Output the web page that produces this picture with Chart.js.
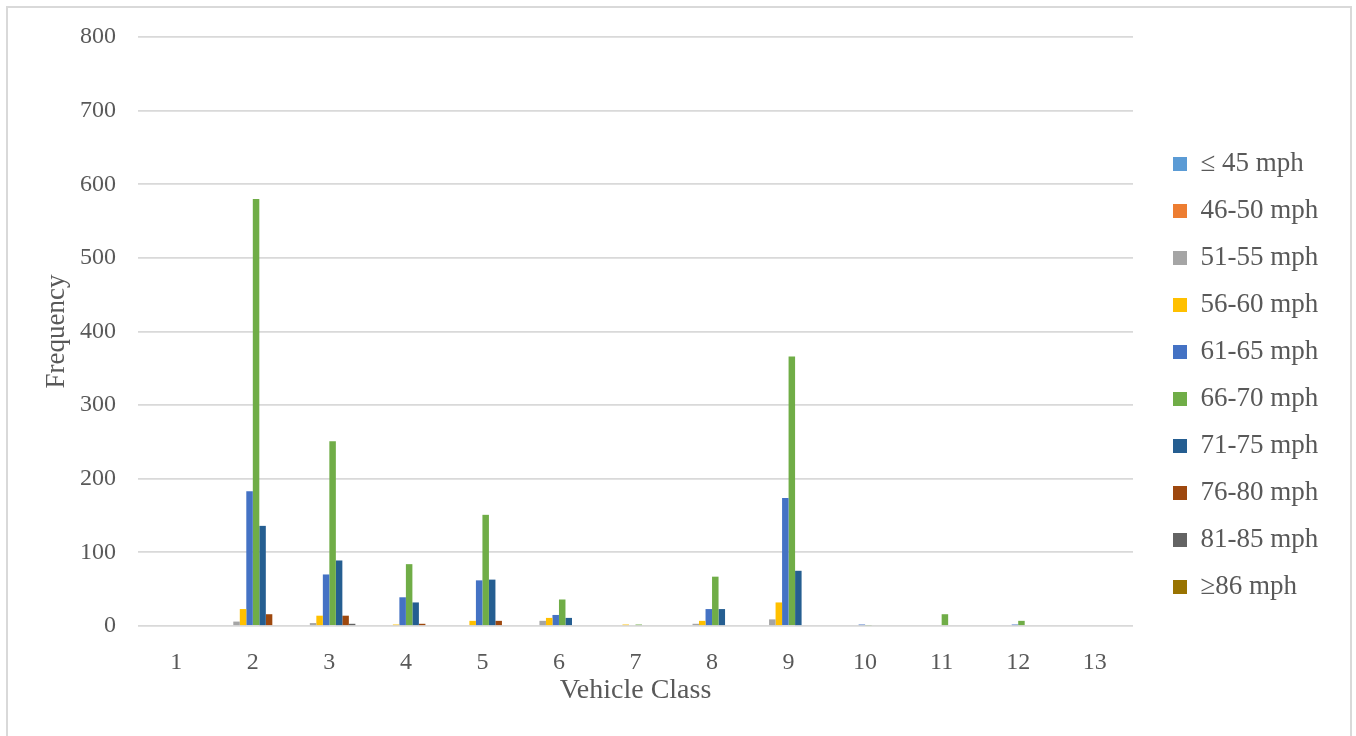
<!DOCTYPE html>
<html>
<head>
<meta charset="utf-8">
<title>Vehicle Class Speed Distribution</title>
<script src="https://cdn.jsdelivr.net/npm/chart.js@4/dist/chart.umd.min.js"></script>
<style>
  html, body { margin: 0; padding: 0; background: #ffffff; overflow: hidden; }
  #wrap { position: relative; width: 1356px; height: 736px; }
  #frame {
    position: absolute; left: 6px; top: 6px; width: 1342px; height: 800px;
    border: 2px solid #d9d9d9; pointer-events: none;
  }
  canvas { display: block; }
</style>
</head>
<body>
<div id="wrap">
  <canvas id="chart" width="1356" height="736"></canvas>
  <div id="frame"></div>
</div>
<script>
// Vehicle classes on the x axis
const vehicleClasses = ['1', '2', '3', '4', '5', '6', '7', '8', '9', '10', '11', '12', '13'];

// Speed bins (legend entries)
const speedBins = ['\u2264 45 mph', '46-50 mph', '51-55 mph', '56-60 mph', '61-65 mph',
                   '66-70 mph', '71-75 mph', '76-80 mph', '81-85 mph', '\u226586 mph'];

// Frequency per vehicle class, one array per speed bin
const le45    = [0, 0,   0,   0,  0,   0,  0, 0,  0,   0, 0,  0, 0];
const s46_50  = [0, 0,   0,   0,  0,   0,  0, 0,  0,   0, 0,  0, 0];
const s51_55  = [0, 6,   4,   0,  0,   7,  0, 3,  9,   0, 0,  0, 0];
const s56_60  = [0, 23,  14,  2,  7,   11, 2, 7,  32,  0, 0,  0, 0];
const s61_65  = [0, 183, 70,  39, 62,  15, 0, 23, 174, 2, 0,  2, 0];
const s66_70  = [0, 580, 251, 84, 151, 36, 2, 67, 366, 1, 16, 7, 0];
const s71_75  = [0, 136, 89,  32, 63,  11, 0, 23, 75,  0, 0,  0, 0];
const s76_80  = [0, 16,  14,  3,  7,   0,  0, 0,  0,   0, 0,  0, 0];
const s81_85  = [0, 0,   3,   0,  0,   0,  0, 0,  0,   0, 0,  0, 0];
const ge86    = [0, 0,   0,   0,  0,   0,  0, 0,  0,   0, 0,  0, 0];

// Y axis ticks
const yTicks = [0, 100, 200, 300, 400, 500, 600, 700, 800];

const seriesValues = [le45, s46_50, s51_55, s56_60, s61_65, s66_70, s71_75, s76_80, s81_85, ge86];
const seriesColors = ['#5B9BD5', '#ED7D31', '#A5A5A5', '#FFC000', '#4472C4',
                      '#70AD47', '#255E91', '#9E480E', '#636363', '#997300'];

const TEXT = '#595959';
const GRID = '#d9d9d9';
const FONT = "'Liberation Serif', 'Times New Roman', serif";
const PLOT_LEFT = 138;
const PLOT_RIGHT = 1133;

Chart.defaults.font.family = FONT;
Chart.defaults.color = TEXT;

// Nudges the legend block to the right, leaving the plot edge where it is
const legendNudge = {
  id: 'legendNudge',
  afterLayout(chart) {
    const lg = chart.legend;
    if (lg) { lg.left += 20; lg.right += 20; }
  }
};

const datasets = speedBins.map((label, i) => ({
  label: label,
  data: seriesValues[i],
  backgroundColor: seriesColors[i],
  borderWidth: 0,
  categoryPercentage: 0.85,
  barPercentage: 1.0
}));

const chart = new Chart(document.getElementById('chart'), {
  type: 'bar',
  data: { labels: vehicleClasses, datasets: datasets },
  plugins: [legendNudge],
  options: {
    responsive: false,
    animation: false,
    layout: { padding: { left: 0, top: 37, right: 58, bottom: 22 } },
    plugins: {
      tooltip: { enabled: false },
      legend: {
        position: 'right',
        align: 'center',
        labels: {
          boxWidth: 14,
          boxHeight: 14,
          padding: 20,
          color: TEXT,
          font: { size: 27, family: FONT }
        }
      }
    },
    scales: {
      x: {
        grid: { display: false },
        border: { display: false },
        ticks: { padding: 14, color: TEXT, font: { size: 24, family: FONT } },
        title: {
          display: true,
          text: 'Vehicle Class',
          color: TEXT,
          font: { size: 28, family: FONT },
          padding: { top: 0, bottom: 7 }
        },
        afterFit(scale) { scale.height = 88; }
      },
      y: {
        min: 0,
        max: yTicks[yTicks.length - 1],
        afterBuildTicks(scale) { scale.ticks = yTicks.map(v => ({ value: v })); },
        grid: { color: GRID, lineWidth: 1.8, drawTicks: false },
        border: { display: false },
        ticks: { padding: 22, color: TEXT, font: { size: 24, family: FONT } },
        title: {
          display: true,
          text: 'Frequency',
          color: TEXT,
          font: { size: 27, family: FONT },
          padding: { top: 41, bottom: 0 }
        },
        afterFit(scale) { scale.width = PLOT_LEFT; }
      }
    }
  }
});

// Settle the right margin so the plot area ends at the intended edge
const dx = chart.chartArea.right - PLOT_RIGHT;
if (Math.abs(dx) > 0.5) {
  chart.options.layout.padding.right += dx;
  chart.update();
}
</script>
</body>
</html>
